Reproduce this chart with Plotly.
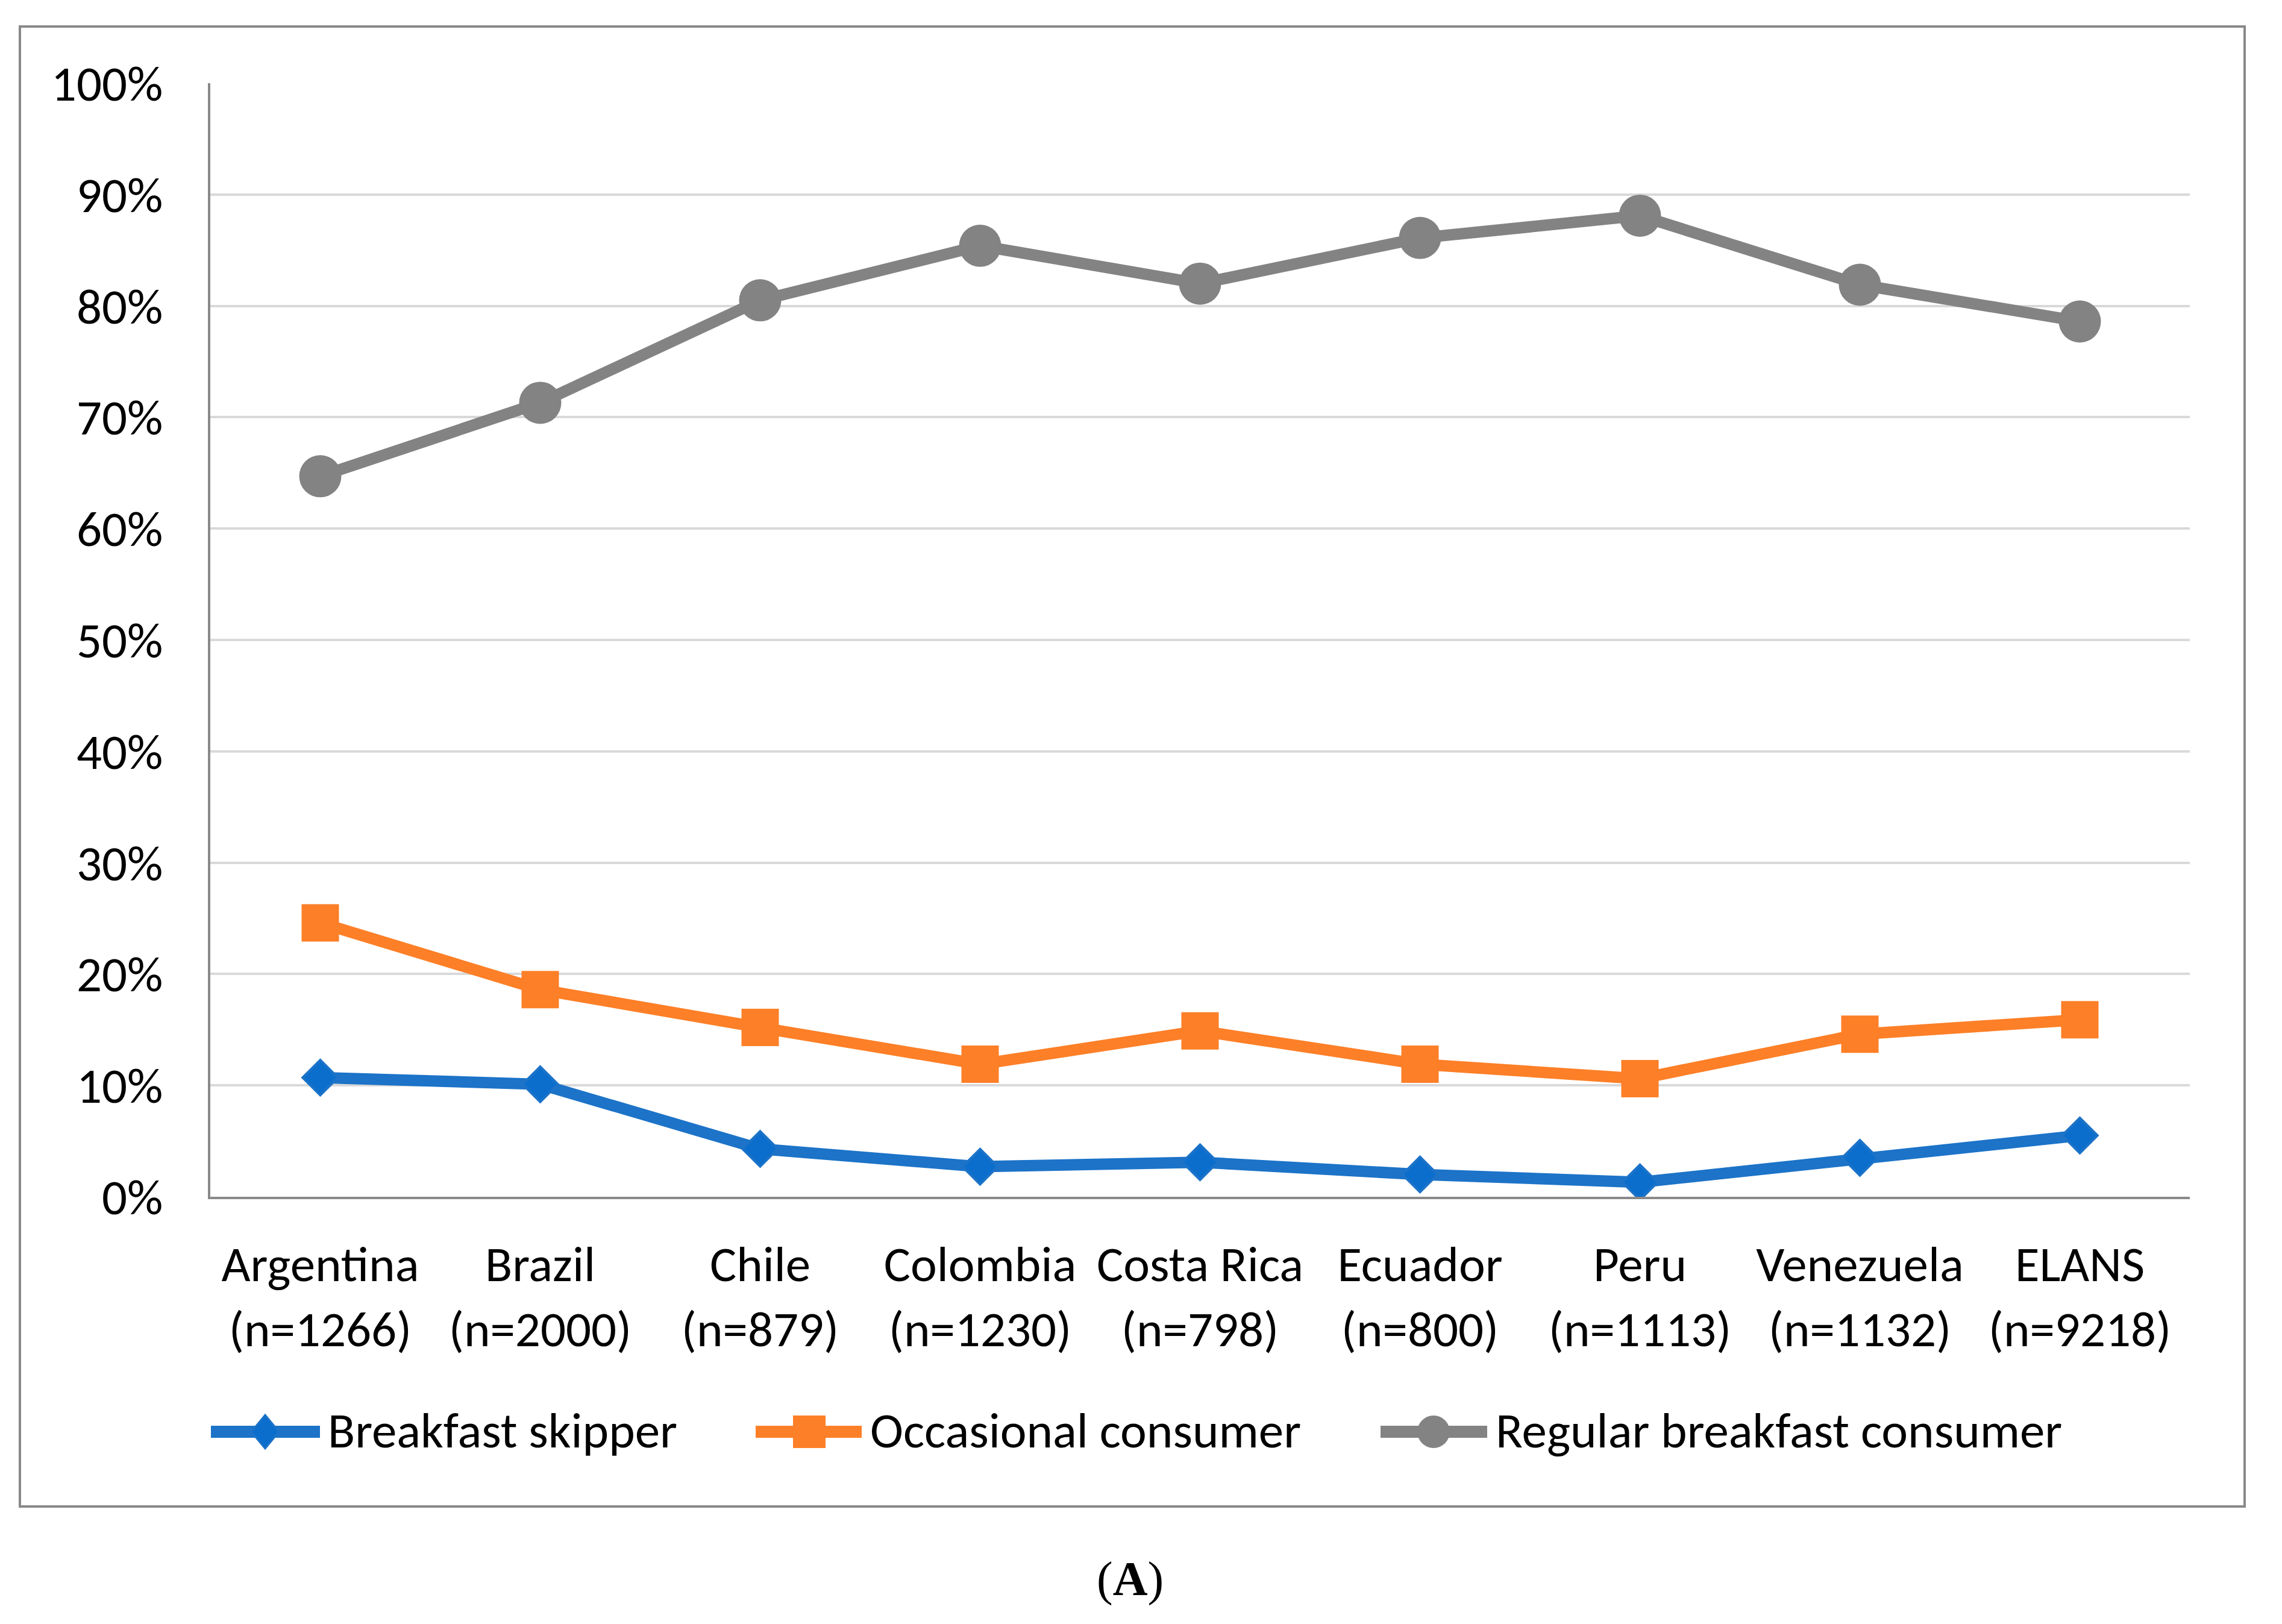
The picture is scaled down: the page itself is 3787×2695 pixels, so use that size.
import plotly.graph_objects as go

# ---- data (percent) ----
countries = ["Argentina", "Brazil", "Chile", "Colombia", "Costa Rica",
             "Ecuador", "Peru", "Venezuela", "ELANS"]
sample_sizes = ["n=1266", "n=2000", "n=879", "n=1230", "n=798",
                "n=800", "n=1113", "n=1132", "n=9218"]
skipper = [10.7, 10.1, 4.3, 2.7, 3.1, 2.0, 1.3, 3.5, 5.5]
occasional = [24.6, 18.6, 15.2, 11.9, 14.9, 11.9, 10.6, 14.6, 15.9]
regular = [64.7, 71.3, 80.5, 85.4, 82.0, 86.1, 88.1, 81.9, 78.6]
series_names = ["Breakfast skipper", "Occasional consumer", "Regular breakfast consumer"]
y_ticks = [0, 10, 20, 30, 40, 50, 60, 70, 80, 90, 100]
y_tick_labels = ["0%", "10%", "20%", "30%", "40%", "50%", "60%", "70%", "80%", "90%", "100%"]
caption = "(<b>A</b>)"

# ---- styles ----
W, H = 3787, 2695
ML, MR, MT, MB = 349, 153, 138, 709
PW, PH = W - ML - MR, H - MT - MB
FONT = "Carlito, Calibri, Lato, sans-serif"
FS = 83
BLUE, BLUE_M = "#1C73C8", "#0B6DCC"
ORANGE = "#FD7F27"
GRAY = "#838383"
AXIS = "#898989"
GRID = "#D9D9D9"


def px2x(px):
    return (px - ML) / PW


def py2y(py):
    return (H - MB - py) / PH


labels = [f"{c}<br>({n})" for c, n in zip(countries, sample_sizes)]

fig = go.Figure()
fig.add_trace(go.Scatter(
    x=labels, y=skipper, name=series_names[0], mode="lines+markers",
    line=dict(color=BLUE, width=19),
    marker=dict(symbol="diamond", size=45, color=BLUE_M,
                line=dict(color=BLUE, width=4)),
))
fig.add_trace(go.Scatter(
    x=labels, y=occasional, name=series_names[1], mode="lines+markers",
    line=dict(color=ORANGE, width=19),
    marker=dict(symbol="square", size=62, color=ORANGE,
                line=dict(color=ORANGE, width=0)),
))
fig.add_trace(go.Scatter(
    x=labels, y=regular, name=series_names[2], mode="lines+markers",
    line=dict(color=GRAY, width=19),
    marker=dict(symbol="circle", size=70, color=GRAY,
                line=dict(color=GRAY, width=0)),
))

shapes = []
annotations = []
# outer chart border
shapes.append(dict(type="rect", xref="paper", yref="paper",
                   x0=px2x(33), x1=px2x(3725), y0=py2y(44), y1=py2y(2500),
                   line=dict(color=AXIS, width=4), fillcolor="rgba(0,0,0,0)",
                   layer="below"))

# custom legend (line sample + marker + label)
leg_y = 2376
legend_items = [
    dict(x0=350, x1=531, cx=440, tx=542, color=BLUE, mcolor=BLUE_M, kind="diamond"),
    dict(x0=1254, x1=1430, cx=1343, tx=1442, color=ORANGE, mcolor=ORANGE, kind="square"),
    dict(x0=2291, x1=2468, cx=2379, tx=2480, color=GRAY, mcolor=GRAY, kind="circle"),
]
for item, name in zip(legend_items, series_names):
    shapes.append(dict(type="line", xref="paper", yref="paper",
                       x0=px2x(item["x0"]), x1=px2x(item["x1"]),
                       y0=py2y(leg_y), y1=py2y(leg_y),
                       line=dict(color=item["color"], width=20)))
    cx, cy = item["cx"], leg_y
    if item["kind"] == "diamond":
        hw, hh = 23, 28
        path = (f"M{px2x(cx)},{py2y(cy - hh)} L{px2x(cx + hw)},{py2y(cy)} "
                f"L{px2x(cx)},{py2y(cy + hh)} L{px2x(cx - hw)},{py2y(cy)} Z")
        shapes.append(dict(type="path", xref="paper", yref="paper", path=path,
                           fillcolor=item["mcolor"], line=dict(color=item["color"], width=3)))
    elif item["kind"] == "square":
        h = 27
        shapes.append(dict(type="rect", xref="paper", yref="paper",
                           x0=px2x(cx - h), x1=px2x(cx + h), y0=py2y(cy + h), y1=py2y(cy - h),
                           fillcolor=item["mcolor"], line=dict(width=0)))
    else:
        r = 27
        shapes.append(dict(type="circle", xref="paper", yref="paper",
                           x0=px2x(cx - r), x1=px2x(cx + r), y0=py2y(cy + r), y1=py2y(cy - r),
                           fillcolor=item["mcolor"], line=dict(width=0)))
    annotations.append(dict(xref="paper", yref="paper", x=px2x(item["tx"]), y=py2y(2373),
                            xanchor="left", yanchor="middle", showarrow=False, text=name,
                            font=dict(family=FONT, size=FS, color="#000000")))

annotations.append(dict(xref="paper", yref="paper", x=px2x(1875), y=py2y(2620),
                        xanchor="center", yanchor="middle", showarrow=False, text=caption,
                        font=dict(family="Liberation Serif, Times New Roman, serif",
                                  size=80, color="#000000")))

fig.update_layout(
    width=W, height=H,
    margin=dict(l=ML, r=MR, t=MT, b=MB, pad=0),
    paper_bgcolor="white", plot_bgcolor="white",
    showlegend=False,
    font=dict(family=FONT, size=FS, color="#000000"),
    shapes=shapes, annotations=annotations,
    xaxis=dict(type="category", range=[-0.5, len(labels) - 0.5],
               showgrid=False, zeroline=False, showline=True,
               linecolor=AXIS, linewidth=4, ticks="",
               tickfont=dict(family=FONT, size=FS, color="#000000"),
               ticklabelstandoff=36),
    yaxis=dict(range=[0, 100], tickmode="array", tickvals=y_ticks, ticktext=y_tick_labels,
               showgrid=True, gridcolor=GRID, gridwidth=4,
               zeroline=False, showline=True, linecolor=AXIS, linewidth=4,
               ticks="", tickfont=dict(family=FONT, size=FS, color="#000000"),
               ticklabelstandoff=58),
)

fig.write_html("out.html", config={"displayModeBar": False},
               post_script="document.body.style.margin='0';document.body.style.overflow='hidden';")
